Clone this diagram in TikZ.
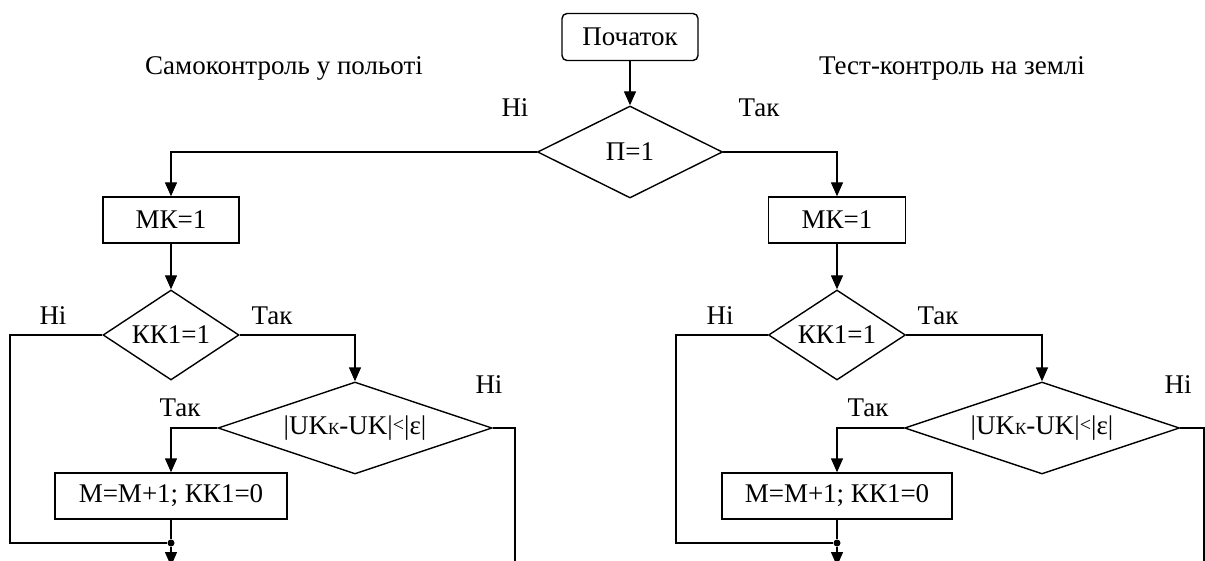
\documentclass[tikz,border=0pt]{standalone}
\usepackage{fontspec}
\setmainfont{Liberation Serif}
\usetikzlibrary{shapes.geometric,arrows.meta}

\tikzset{
  base/.style={draw=black, line width=1.4pt, inner sep=1pt, font=\fontsize{27}{32}\selectfont},
  procbox/.style={base, rectangle, minimum height=46pt},
  startbox/.style={base, rectangle, rounded corners=5pt, minimum width=136pt, minimum height=47pt},
  decision/.style={base, diamond, inner sep=0pt, minimum height=92pt},
  lbl/.style={inner sep=0pt, font=\fontsize{27}{32}\selectfont},
  link/.style={draw=black, line width=1.4pt},
  arr/.style={link, -{Triangle[width=12pt,length=14pt]}},
  junction/.style={circle, fill=black, inner sep=0pt, minimum size=7pt}
}

\newcommand{\condtext}{|UK{\fontsize{17}{19}\selectfont К}-UK|{\fontsize{20}{22}\selectfont\raisebox{3pt}{<}}|ε|}

\begin{document}
\begin{tikzpicture}[x=1pt, y=-1pt]
  \useasboundingbox (0,0) rectangle (1205,561);
  \clip (0,0) rectangle (1205,561);

  % start and first decision
  \node[startbox] (start) at (630,37) {Початок};
  \node[decision, aspect=2, minimum width=185pt] (p) at (630,152) {П=1};

  % branch titles and answers of the first decision
  \node[lbl] (tl) at (284,68) {Самоконтроль у польоті};
  \node[lbl] (tr) at (952,68) {Тест-контроль на землі};
  \node[lbl] (pno) at (515,108) {Ні};
  \node[lbl] (pyes) at (759,108) {Так};

  % left branch
  \node[procbox, minimum width=136pt] (mkL) at (171,220) {МК=1};
  \node[decision, aspect=1.5, minimum width=136pt, minimum height=90pt] (kkL) at (171,335) {КК1=1};
  \node[decision, aspect=3, minimum width=274pt] (dL) at (355,428) {\condtext};
  \node[procbox, minimum width=232pt] (mL) at (171,496) {M=M+1; КК1=0};
  \node[junction] (jL) at (171,543) {};
  \coordinate (cL) at (10,543);
  \coordinate (outL) at (171,566);
  \coordinate (exL) at (515,566);
  \node[lbl] (kkLno) at (53,316) {Ні};
  \node[lbl] (kkLyes) at (272,316) {Так};
  \node[lbl] (dLyes) at (180,408) {Так};
  \node[lbl] (dLno) at (489,385) {Ні};

  % right branch
  \node[procbox, minimum width=137pt] (mkR) at (837,220) {МК=1};
  \node[decision, aspect=1.5, minimum width=137pt, minimum height=90pt] (kkR) at (837,335) {КК1=1};
  \node[decision, aspect=3, minimum width=275pt] (dR) at (1042,428) {\condtext};
  \node[procbox, minimum width=230pt] (mR) at (837,496) {M=M+1; КК1=0};
  \node[junction] (jR) at (837,543) {};
  \coordinate (cR) at (676,543);
  \coordinate (outR) at (837,566);
  \coordinate (exR) at (1204,566);
  \node[lbl] (kkRno) at (720,316) {Ні};
  \node[lbl] (kkRyes) at (938,316) {Так};
  \node[lbl] (dRyes) at (868,408) {Так};
  \node[lbl] (dRno) at (1178,385) {Ні};

  % connectors
  \draw[arr] (start) -- (p);
  \draw[arr] (p.west) -| (mkL.north);
  \draw[arr] (p.east) -| (mkR.north);

  \draw[arr] (mkL) -- (kkL);
  \draw[link] (kkL.west) -| (cL) -- (jL);
  \draw[arr] (kkL.east) -| (dL.north);
  \draw[arr] (dL.west) -| (mL.north);
  \draw[link] (dL.east) -| (exL);
  \draw[link] (mL) -- (jL);
  \draw[arr] (jL) -- (outL);

  \draw[arr] (mkR) -- (kkR);
  \draw[link] (kkR.west) -| (cR) -- (jR);
  \draw[arr] (kkR.east) -| (dR.north);
  \draw[arr] (dR.west) -| (mR.north);
  \draw[link] (dR.east) -| (exR);
  \draw[link] (mR) -- (jR);
  \draw[arr] (jR) -- (outR);
\end{tikzpicture}
\end{document}
